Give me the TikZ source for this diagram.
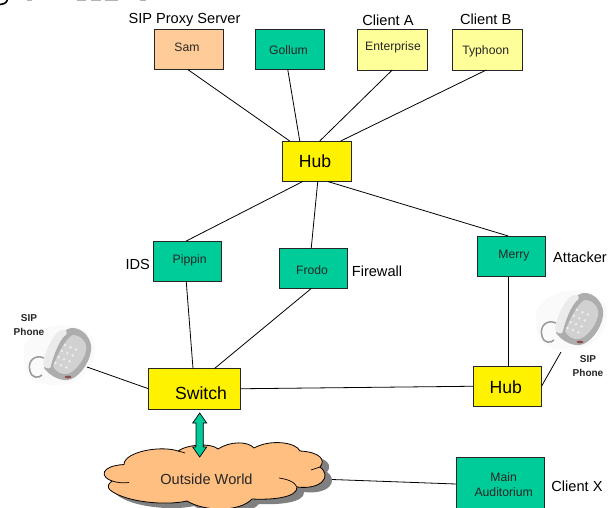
\documentclass[tikz,border=0pt]{standalone}
\usepackage{fontspec}
\setmainfont{Liberation Sans}
\definecolor{tealbox}{HTML}{00CC99}
\definecolor{peach}{HTML}{FFCC99}
\definecolor{paleyellow}{HTML}{FFFF99}
\definecolor{cloudfill}{HTML}{FFBF80}
\tikzset{
  box/.style={draw=black!85,line width=0.8pt,outer sep=0pt,minimum width=68.5pt,minimum height=40.5pt,inner sep=0pt,anchor=north west},
  hubbox/.style={box,fill=yellow},
  tealnode/.style={box,fill=tealbox},
  boxtext/.style={text=black!85,font=\fontsize{12.2}{15}\selectfont,inner sep=0pt},
  bigtext/.style={text=black,font=\fontsize{17.6}{20}\selectfont,inner sep=0pt},
  lbl/.style={font=\fontsize{14.6}{17}\selectfont,inner sep=0pt},
  small/.style={font=\bfseries\fontsize{10}{14}\selectfont,inner sep=0pt,align=center,text=black!85},
  link/.style={draw=black,line width=0.8pt}
}
\newcommand{\cloudshape}{
  (110,490) .. controls (107,487) and (108,484) .. (112,481)
  .. controls (100,477) and (100,466) .. (124,464.5)
  .. controls (124,452) and (160,445) .. (178,451)
  .. controls (188,444) and (212,443) .. (218,449)
  .. controls (230,441) and (248,441) .. (254,448)
  .. controls (270,439) and (296,442) .. (300,451)
  .. controls (320,452) and (326,460) .. (320,467)
  .. controls (332,476) and (322,490) .. (297,487)
  .. controls (298,498) and (270,500) .. (252,499)
  .. controls (240,512) and (205,512) .. (187,501)
  .. controls (165,506) and (125,502) .. (110,490) -- cycle
}
\newcommand{\phoneshape}[2]{
  \begin{scope}[shift={(#1,#2)}]
    \fill[black!2] (-35,-5) .. controls (-20,-32) and (25,-32) .. (36,-8) .. controls (38,20) and (20,34) .. (-5,34) .. controls (-25,34) and (-38,25) .. (-35,-5) -- cycle;
    \draw[black!40,line width=1.5pt] (-15,7) .. controls (-24,3) and (-32,10) .. (-29,20) .. controls (-27,28) and (-20,27) .. (-17,24);
    \fill[black!32] (-15,17) .. controls (-8,0) and (2,-22) .. (12,-23) .. controls (25,-24) and (34,-10) .. (32,0) .. controls (30,14) and (18,28) .. (9,29) .. controls (0,30) and (-10,24) .. (-15,17) -- cycle;
    \fill[black!18] (-6,15) .. controls (0,0) and (8,-14) .. (14,-16) .. controls (22,-16) and (29,-8) .. (27,0) .. controls (24,12) and (14,22) .. (8,23) .. controls (2,24) and (-4,20) .. (-6,15) -- cycle;
    \foreach \u in {0,1,2} \foreach \v in {0,1,2,3}
      \fill[black!7] ({6+\u*5.5-\v*3.2},{-6+\u*2.2+\v*6}) circle (1.4pt);
    \fill[black!8] (-16,12) .. controls (-12,-6) and (-4,-19) .. (3,-21) .. controls (8,-22) and (9,-18) .. (6,-15) .. controls (0,-9) and (-5,4) .. (-8,16) .. controls (-10,19) and (-16,17) .. (-16,12) -- cycle;
    \draw[black!35,line width=0.5pt] (-8,16) .. controls (-5,4) and (0,-9) .. (6,-15);
    \fill[black!40!red!40!gray] (9,26) ellipse (3.5pt and 1.3pt);
  \end{scope}
}
\begin{document}
\begin{tikzpicture}[x=1pt,y=-1pt]
\useasboundingbox (0,0) rectangle (608,507);
\fill[white] (0,0) rectangle (608,507);
\begin{scope}
  \clip (0,0) rectangle (608,507);
  % remnants of a cropped title at the top edge
  \draw[black,line width=1.6pt] (0,4.5) .. controls (3,5) and (6,3) .. (7.5,0);
  \foreach \a/\b in {27/32,77/86,91/101,105/118,140/146}
    \draw[black!30,line width=1.2pt] (\a,0.5) -- (\b,0.5);
  % phones
  \phoneshape{59}{351}
  \phoneshape{571}{316}
  \coordinate (phoneL) at (87,367);
  \coordinate (phoneR) at (561,352);
  % cloud
  \fill[black!50,shift={(7,5)}] \cloudshape;
  \filldraw[fill=cloudfill,draw=black,line width=0.8pt] \cloudshape;
  \draw[black,line width=0.7pt] (112,481) .. controls (118,483) and (124,483) .. (129,482.5);
  \draw[black,line width=0.7pt] (178,451) .. controls (181,452) and (183,452) .. (185,453);
  \draw[black,line width=0.7pt] (320,467) -- (311,470);
  \draw[black,line width=0.7pt] (297,487) .. controls (295,482) and (287,479) .. (279,478);
  \node[inner sep=0pt,text=black!85,font=\fontsize{14.6}{17}\selectfont] (cloud) at (206.5,479) {Outside World};
  \coordinate (cloudedge) at (332,479.5);
  % boxes
  \node[box,fill=peach] (sam) at (154.5,29) {};
  \node[boxtext] (samt) at (187,47) {Sam};
  \node[tealnode] (gollum) at (255.5,29) {};
  \node[boxtext] (golt) at (288.5,50.5) {Gollum};
  \node[box,fill=paleyellow,minimum width=69.5pt] (enterprise) at (357.5,29.5) {};
  \node[boxtext] (entt) at (393,47.5) {Enterprise};
  \node[box,fill=paleyellow,minimum width=69.5pt] (typhoon) at (452.5,29.5) {};
  \node[boxtext] (typt) at (485.7,51) {Typhoon};
  \node[hubbox] (hubtop) at (282.5,141) {};
  \node[bigtext] (hubtopt) at (315,161) {Hub};
  \node[tealnode] (pippin) at (153,241) {};
  \node[boxtext] (pipt) at (189.7,260.7) {Pippin};
  \node[tealnode] (frodo) at (279,248) {};
  \node[boxtext] (frot) at (312,270) {Frodo};
  \node[tealnode] (merry) at (477,236) {};
  \node[boxtext] (mert) at (514,256) {Merry};
  \node[hubbox,minimum width=92pt] (switch) at (148.5,368.5) {};
  \node[bigtext] (swt) at (201,393) {Switch};
  \node[hubbox] (hublow) at (473,366) {};
  \node[bigtext] (hublowt) at (505.7,387) {Hub};
  \node[tealnode,minimum width=88pt,minimum height=54pt] (main) at (456,457) {};
  \node[boxtext,align=center,font=\fontsize{12.2}{15.4}\selectfont] (maint) at (503.7,484.5) {Main\\Auditorium};
  % labels
  \node[lbl] (l1) at (184.5,20) {SIP Proxy Server};
  \node[lbl] (l2) at (388,20) {Client A};
  \node[lbl] (l3) at (485.7,19) {Client B};
  \node[lbl] (l4) at (137.7,264) {IDS};
  \node[lbl] (l5) at (377,271) {Firewall};
  \node[lbl] (l6) at (580,257) {Attacker};
  \node[lbl] (l7) at (577,486) {Client X};
  \node[small] (p1) at (29,325) {SIP\\Phone};
  \node[small] (p2) at (588,366) {SIP\\Phone};
  % connectors
  \draw[link] ([xshift=-1pt]sam.south) -- ([xshift=-27pt]hubtop.north);
  \draw[link] ([xshift=-2pt]gollum.south) -- ([xshift=-17pt]hubtop.north);
  \draw[link] (enterprise.south) -- ([xshift=3pt]hubtop.north);
  \draw[link] ([xshift=-1pt]typhoon.south) -- ([xshift=24pt]hubtop.north);
  \draw[link] ([xshift=-14pt]hubtop.south) -- ([xshift=-1pt]pippin.north);
  \draw[link] ([xshift=1pt]hubtop.south) -- ([xshift=-2pt]frodo.north);
  \draw[link] ([xshift=11pt]hubtop.south) -- ([xshift=-3pt]merry.north);
  \draw[link] ([xshift=-1pt]pippin.south) -- ([xshift=-1.5pt]switch.north);
  \draw[link] ([xshift=-2pt]frodo.south) -- ([xshift=20pt]switch.north);
  \draw[link] ([xshift=-3pt]merry.south) -- ([xshift=1pt]hublow.north);
  \draw[link] (switch.east) -- (hublow.west);
  \draw[link] (phoneL) -- (switch.west);
  \draw[link] (phoneR) -- (hublow.east);
  \draw[link] (cloudedge) -- (main.west);
  % double arrow
  \filldraw[fill=tealbox,draw=black,line width=0.7pt,line join=miter]
    (199.7,413) -- (206.7,423) -- (203.3,423) -- (203.3,447) -- (206.7,447) -- (199.7,457) -- (192.7,447) -- (196,447) -- (196,423) -- (192.7,423) -- cycle;
\end{scope}
\end{tikzpicture}
\end{document}
